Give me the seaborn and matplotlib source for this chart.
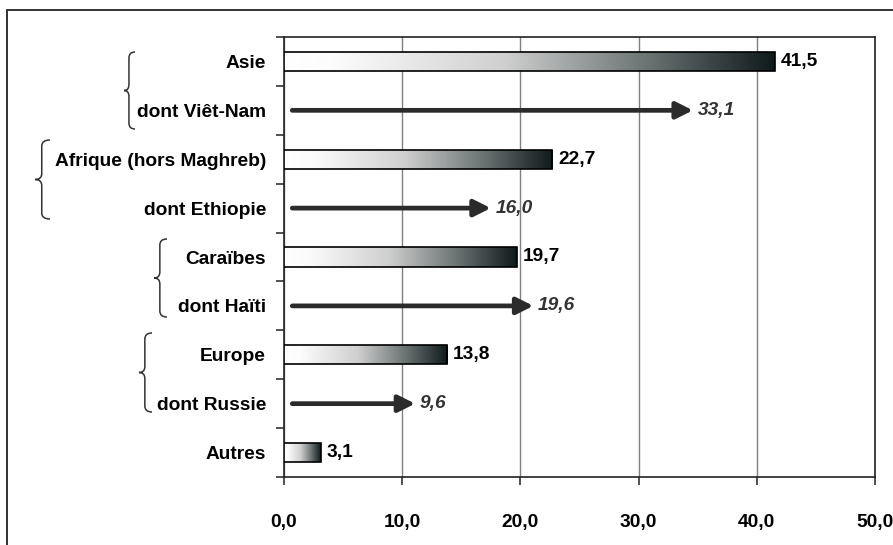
import numpy as np
import pandas as pd
import matplotlib
matplotlib.use("Agg")
import matplotlib.pyplot as plt
from matplotlib.colors import LinearSegmentedColormap
from matplotlib.path import Path
from matplotlib.patches import PathPatch, Rectangle
import seaborn as sns

# ---- data ----
labels = ["Asie", "dont Viêt-Nam", "Afrique (hors Maghreb)", "dont Ethiopie",
          "Caraïbes", "dont Haïti", "Europe", "dont Russie", "Autres"]
bar_values = [41.5, np.nan, 22.7, np.nan, 19.7, np.nan, 13.8, np.nan, 3.1]
arrow_values = [np.nan, 33.1, np.nan, 16.0, np.nan, 19.6, np.nan, 9.6, np.nan]
xticks = [0, 10, 20, 30, 40, 50]
xtick_labels = ["0,0", "10,0", "20,0", "30,0", "40,0", "50,0"]

sns.set_theme(style="white")
FONT = ["Liberation Sans Narrow", "Liberation Sans", "DejaVu Sans"]
plt.rcParams["font.family"] = FONT
FS = 13.8

W, H = 893, 545
fig = plt.figure(figsize=(W / 100, H / 100), dpi=100)
fig.patch.set_facecolor("white")
ax = fig.add_axes([284 / W, 68 / H, 591 / W, 440 / H])

df = pd.DataFrame({"label": labels, "value": bar_values})
sns.barplot(data=df, y="label", x="value", order=labels, orient="h",
            width=0.39, ax=ax, color="white", edgecolor="black",
            linewidth=1.2, zorder=3)

ax.set_xlim(0, 50)
ax.set_ylim(8.5, -0.5)

# gradient fill for bars
cmap = LinearSegmentedColormap.from_list(
    "grad", [(0, "#ffffff"), (0.1, "#fcfcfc"), (0.45, "#cfcfcf"),
             (0.75, "#687070"), (1.0, "#0f1a1a")])
grad = np.linspace(0, 1, 256).reshape(1, -1)
for p in list(ax.patches):
    w = p.get_width()
    if not np.isfinite(w) or w <= 0:
        continue
    x0, y0, h = p.get_x(), p.get_y(), p.get_height()
    p.set_facecolor("none")
    p.set_zorder(4)
    im = ax.imshow(grad, cmap=cmap, aspect="auto", zorder=3,
                   extent=[x0, x0 + w, y0 + h, y0], interpolation="bicubic")
    im.set_clip_path(p)
ax.set_xlim(0, 50)
ax.set_ylim(8.5, -0.5)

# bar value labels
for i, v in enumerate(bar_values):
    if np.isfinite(v):
        ax.text(v + 0.5, i, f"{v:.1f}".replace(".", ","), va="center", ha="left",
                fontsize=FS, fontweight="bold", color="black", zorder=5)

# arrows
for i, v in enumerate(arrow_values):
    if np.isfinite(v):
        tip = v + 1.5
        ax.annotate("", xy=(tip, i), xytext=(0.7, i),
                    arrowprops=dict(arrowstyle="-|>", lw=3.4, color="#2b2b2b",
                                    mutation_scale=25, shrinkA=0, shrinkB=0),
                    zorder=5)
        ax.text(tip + 0.4, i, f"{v:.1f}".replace(".", ","), va="center", ha="left",
                fontsize=FS, fontweight="bold", fontstyle="italic",
                color="#333333", zorder=5)

# grid / spines / ticks
ax.set_xticks(xticks)
ax.set_xticklabels(xtick_labels)
ax.xaxis.grid(True, color="#808080", lw=1.0, zorder=0)
ax.set_axisbelow(True)
for s in ax.spines.values():
    s.set_visible(True)
    s.set_color("#222222")
    s.set_linewidth(1.2)
ax.tick_params(axis="x", which="major", direction="out", length=6, width=1.1,
               color="#222222", pad=21, bottom=True)
ax.set_yticks(range(len(labels)))
ax.set_yticklabels(labels)
ax.set_yticks(np.arange(-0.5, len(labels), 1.0), minor=True)
ax.tick_params(axis="y", which="major", length=0, pad=13)
ax.tick_params(axis="y", which="minor", direction="out", length=6, width=1.1,
               color="#222222", left=True)
for t in ax.get_xticklabels() + ax.get_yticklabels():
    t.set_fontsize(FS)
    t.set_fontweight("bold")
    t.set_color("black")
ax.set_xlabel("")
ax.set_ylabel("")


# curly braces (pixel coords -> figure fraction)
def brace(x_tip, x_end, y_top, y_bot):
    x_line = x_tip + (x_end - x_tip) * 0.45
    ym = (y_top + y_bot) / 2
    c = 6
    pts = [(x_end, y_top), (x_line, y_top), (x_line, y_top + c),
           (x_line, ym - c), (x_line, ym), (x_tip, ym),
           (x_line, ym), (x_line, ym + c),
           (x_line, y_bot - c), (x_line, y_bot), (x_end, y_bot)]
    codes = [Path.MOVETO, Path.CURVE3, Path.CURVE3,
             Path.LINETO, Path.CURVE3, Path.CURVE3,
             Path.CURVE3, Path.CURVE3,
             Path.LINETO, Path.CURVE3, Path.CURVE3]
    verts = [(x / W, 1 - y / H) for x, y in pts]
    fig.patches.append(PathPatch(Path(verts, codes), transform=fig.transFigure,
                                 fill=False, lw=1.1, color="#333333"))


brace(124, 135, 52, 129)
brace(35, 50, 140, 219)
brace(154, 167, 239, 317)
brace(139, 152, 333, 412)

# outer frame (only top and left edge visible)
fig.patches.append(Rectangle((7 / W, -0.1), 1.2, 1 - 10 / H + 0.1,
                             transform=fig.transFigure, fill=False,
                             lw=1.4, edgecolor="#333333"))

fig.savefig("out.png", dpi=100)
